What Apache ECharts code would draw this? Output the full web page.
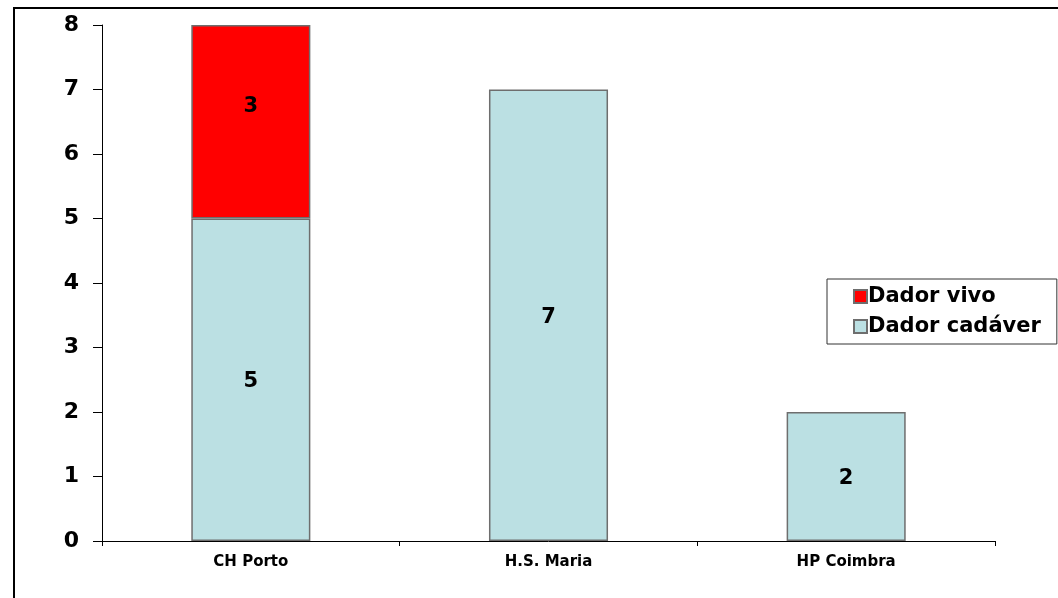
<!DOCTYPE html>
<html>
<head>
<meta charset="utf-8">
<script src="https://cdn.jsdelivr.net/npm/echarts@6/dist/echarts.min.js"></script>
<style>
  html, body { margin: 0; padding: 0; background: #fff; }
  #chart { width: 1058px; height: 598px; }
</style>
</head>
<body>
<div id="chart"></div>
<script>
const categories = ["CH Porto", "H.S. Maria", "HP Coimbra"];
const cadaverValues = [5, 7, 2];
const vivoValues = [3, null, null];
const yMin = 0;
const yMax = 8;
const yStep = 1;

const FONT = "DejaVu Sans";

const chart = echarts.init(document.getElementById("chart"));

const barLabel = {
  show: true,
  position: "inside",
  color: "#000",
  fontFamily: FONT,
  fontWeight: "bold",
  fontSize: 21,
};

const option = {
  animation: false,
  backgroundColor: "#fff",
  grid: { left: 102, top: 25, right: 63, bottom: 57 },
  // moldura exterior
  graphic: [
    {
      type: "rect",
      shape: { x: 14, y: 8, width: 2000, height: 2000 },
      style: { fill: "none", stroke: "#000", lineWidth: 2 },
      silent: true,
    },
  ],
  legend: {
    orient: "vertical",
    left: 827,
    top: 279,
    data: ["Dador vivo", "Dador cadáver"],
    itemWidth: 13,
    itemHeight: 13,
    itemGap: 9,
    padding: [7, 16, 7, 26],
    borderColor: "#333",
    borderWidth: 1,
    icon: "rect",
    textStyle: {
      fontFamily: FONT,
      fontWeight: "bold",
      fontSize: 21,
      color: "#000",
      padding: [0, 0, 0, -4],
    },
  },
  xAxis: {
    type: "category",
    data: categories,
    axisLine: { lineStyle: { color: "#000", width: 1 } },
    axisTick: { show: true, length: 5, lineStyle: { color: "#000" } },
    axisLabel: {
      color: "#000",
      fontFamily: FONT,
      fontWeight: "bold",
      fontSize: 15,
      margin: 14,
    },
  },
  yAxis: {
    type: "value",
    min: yMin,
    max: yMax,
    interval: yStep,
    splitLine: { show: false },
    axisLine: { show: true, lineStyle: { color: "#000", width: 1 } },
    axisTick: { show: true, length: 9, lineStyle: { color: "#000" } },
    axisLabel: {
      color: "#000",
      fontFamily: FONT,
      fontWeight: "bold",
      fontSize: 22,
      margin: 23,
    },
  },
  series: [
    {
      name: "Dador cadáver",
      type: "bar",
      stack: "total",
      barWidth: "40%",
      data: cadaverValues,
      itemStyle: { color: "#BBE0E3", borderColor: "#6e6e6e", borderWidth: 1.5 },
      label: Object.assign({}, barLabel, { offset: [0, 2] }),
    },
    {
      name: "Dador vivo",
      type: "bar",
      stack: "total",
      barWidth: "40%",
      data: vivoValues,
      itemStyle: { color: "#FF0000", borderColor: "#6e6e6e", borderWidth: 1.5 },
      label: Object.assign({}, barLabel, { offset: [0, -15] }),
    },
  ],
};

chart.setOption(option);
</script>
</body>
</html>
